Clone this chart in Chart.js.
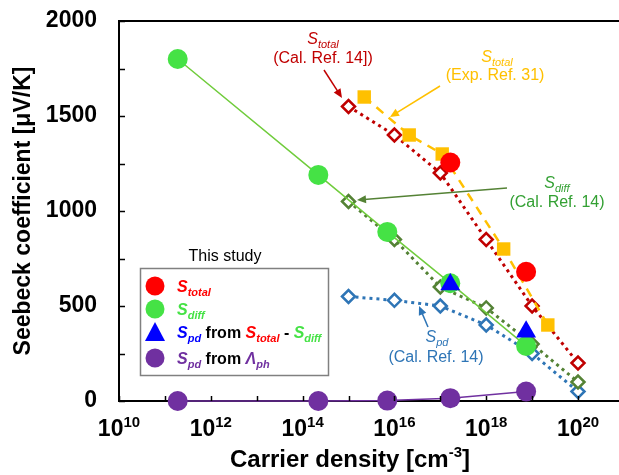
<!DOCTYPE html>
<html>
<head>
  <meta charset="UTF-8" />
  <title>Seebeck coefficient vs carrier density</title>
  <script src="https://cdn.jsdelivr.net/npm/chart.js"></script>
  <style>
    body {
      margin: 0;
      background: #fff;
      overflow: hidden;
    }

    #wrap {
      width: 619px;
      height: 475px;
      position: relative;
    }
  </style>
</head>
<body>

  <div id="wrap"><canvas id="chart"></canvas></div>

  <script>
    // Ref. 14 calculations, one point per decade
    const calX = [1e15, 1e16, 1e17, 1e18, 1e19, 1e20];
    const totalCalY = [1550, 1400, 1200, 850, 500, 200];
    const diffCalY = [1050, 850, 600, 490, 300, 100];
    const pdCalY = [550, 530, 500, 400, 250, 50];

    // Ref. 31 experiment
    const totalExpX = [2.2e15, 2.1e16, 1.1e17, 2.4e18, 2.2e19];
    const totalExpY = [1600, 1400, 1300, 800, 400];

    // this study
    const studyX = [1.9e11, 2.2e14, 7e15, 1.65e17, 7.4e18];
    const diffY = [1800, 1190, 890, 620, 290];
    const phY = [0, 0, 2, 15, 50];
    const totalX = [1.65e17, 7.4e18];
    const totalY = [1255, 680];
    const pdY = [613, 365];

    const xTickExps = [10, 12, 14, 16, 18, 20];
    const xMinorExps = [10, 11, 12, 13, 14, 15, 16, 17, 18, 19, 20];
    const yStep = 250;

    const FONT = '"Liberation Sans", Arial, sans-serif';

    const pts = (xs, ys) => xs.map((x, i) => ({ x: x, y: ys[i] }));

    // draw a run of differently styled pieces of text
    function drawParts(ctx, parts, x, y, align) {
      let w = 0;
      parts.forEach(p => { ctx.font = p[1]; w += ctx.measureText(p[0]).width; });
      let cx = align === 'center' ? x - w / 2 : x;
      ctx.textAlign = 'left';
      ctx.textBaseline = 'alphabetic';
      parts.forEach(p => {
        ctx.font = p[1];
        ctx.fillStyle = p[2];
        ctx.fillText(p[0], cx, y + (p[3] || 0));
        cx += ctx.measureText(p[0]).width;
      });
    }

    function arrow(ctx, x1, y1, x2, y2, color) {
      const a = Math.atan2(y2 - y1, x2 - x1);
      const len = 9, half = 4;
      ctx.strokeStyle = color;
      ctx.fillStyle = color;
      ctx.lineWidth = 1.5;
      ctx.beginPath();
      ctx.moveTo(x1, y1);
      ctx.lineTo(x2 - Math.cos(a) * len * 0.8, y2 - Math.sin(a) * len * 0.8);
      ctx.stroke();
      ctx.beginPath();
      ctx.moveTo(x2, y2);
      ctx.lineTo(x2 - Math.cos(a) * len + Math.sin(a) * half, y2 - Math.sin(a) * len - Math.cos(a) * half);
      ctx.lineTo(x2 - Math.cos(a) * len - Math.sin(a) * half, y2 - Math.sin(a) * len + Math.cos(a) * half);
      ctx.closePath();
      ctx.fill();
    }

    const extras = {
      id: 'extras',
      afterDraw(chart) {
        const ctx = chart.ctx;
        const xs = chart.scales.x, ys = chart.scales.y;
        const area = chart.chartArea;
        ctx.save();

        // frame: top line and inward ticks
        ctx.strokeStyle = '#000';
        ctx.lineWidth = 2;
        ctx.beginPath();
        ctx.moveTo(area.left, area.top);
        ctx.lineTo(chart.width, area.top);
        ctx.stroke();
        ctx.lineWidth = 1.5;
        xMinorExps.forEach(e => {
          const px = Math.round(xs.getPixelForValue(Math.pow(10, e))) + 0.5;
          ctx.beginPath();
          ctx.moveTo(px, area.bottom);
          ctx.lineTo(px, area.bottom - 5);
          ctx.stroke();
        });
        for (let v = 0; v <= 2000; v += yStep) {
          const py = Math.round(ys.getPixelForValue(v)) + 0.5;
          ctx.beginPath();
          ctx.moveTo(area.left, py);
          ctx.lineTo(area.left + 6, py);
          ctx.stroke();
        }

        // x tick labels with superscripts
        xTickExps.forEach(e => {
          const px = xs.getPixelForValue(Math.pow(10, e));
          drawParts(ctx, [
            ['10', 'bold 23px ' + FONT, '#000'],
            [String(e), 'bold 15px ' + FONT, '#000', -9]
          ], px, 436, 'center');
        });

        // x axis title
        drawParts(ctx, [
          ['Carrier density [cm', 'bold 24px ' + FONT, '#000'],
          ['-3', 'bold 15px ' + FONT, '#000', -10],
          [']', 'bold 24px ' + FONT, '#000']
        ], 350, 467, 'center');

        // annotations for the Ref. 14 / Ref. 31 curves
        const aS = 'italic 16px ' + FONT, aSub = 'italic 11px ' + FONT, aT = '16px ' + FONT;
        const dred = '#c00000', orange = '#ffc000', dgreen = '#33a033', lblue = '#2e75b6';
        drawParts(ctx, [['S', aS, dred], ['total', aSub, dred, 4]], 323, 44, 'center');
        drawParts(ctx, [['(Cal. Ref. 14])', aT, dred]], 323, 63, 'center');
        arrow(ctx, 324, 70, 342, 98, dred);

        drawParts(ctx, [['S', aS, orange], ['total', aSub, orange, 4]], 497, 62, 'center');
        drawParts(ctx, [['(Exp. Ref. 31)', aT, orange]], 495, 80, 'center');
        arrow(ctx, 440, 86, 390, 117, orange);

        drawParts(ctx, [['S', aS, dgreen], ['diff', aSub, dgreen, 4]], 557, 188, 'center');
        drawParts(ctx, [['(Cal. Ref. 14)', aT, dgreen]], 557, 207, 'center');
        arrow(ctx, 507, 188, 357, 200, '#548235');

        drawParts(ctx, [['S', aS, lblue], ['pd', aSub, lblue, 4]], 437, 342, 'center');
        drawParts(ctx, [['(Cal. Ref. 14)', aT, lblue]], 436, 362, 'center');
        arrow(ctx, 428, 327, 419, 306, lblue);

        // legend for this study
        ctx.font = '16px ' + FONT;
        ctx.fillStyle = '#000';
        ctx.textAlign = 'center';
        ctx.fillText('This study', 225, 261);
        ctx.strokeStyle = '#808080';
        ctx.lineWidth = 1.5;
        ctx.strokeRect(140.5, 268.5, 188, 107);

        const lS = 'italic bold 16px ' + FONT, lSub = 'italic bold 11px ' + FONT, lT = 'bold 16px ' + FONT;
        const red = '#ff0000', green = '#45e245', blue = '#0000ff', purple = '#7030a0';
        const dot = (y, c) => {
          ctx.fillStyle = c;
          ctx.beginPath();
          ctx.arc(155, y, 9.5, 0, Math.PI * 2);
          ctx.fill();
        };
        dot(286, red);
        drawParts(ctx, [['S', lS, red], ['total', lSub, red, 4]], 177, 292, 'left');
        dot(309, green);
        drawParts(ctx, [['S', lS, green], ['diff', lSub, green, 4]], 177, 315, 'left');
        ctx.fillStyle = blue;
        ctx.beginPath();
        ctx.moveTo(155, 322);
        ctx.lineTo(165, 341);
        ctx.lineTo(145, 341);
        ctx.closePath();
        ctx.fill();
        drawParts(ctx, [
          ['S', lS, blue], ['pd', lSub, blue, 4], [' from ', lT, '#000'],
          ['S', lS, red], ['total', lSub, red, 4], [' - ', lT, '#000'],
          ['S', lS, green], ['diff', lSub, green, 4]
        ], 177, 338, 'left');
        dot(358, purple);
        drawParts(ctx, [
          ['S', lS, purple], ['pd', lSub, purple, 4], [' from ', lT, '#000'],
          ['\u039B', lS, purple], ['ph', lSub, purple, 4]
        ], 177, 364, 'left');

        ctx.restore();
      }
    };

    const dotted = [3, 4];

    new Chart(document.getElementById('chart'), {
      type: 'line',
      data: {
        datasets: [
          {
            label: 'Spd from Stotal - Sdiff',
            data: pts(totalX, pdY),
            showLine: false,
            pointStyle: 'triangle',
            pointRadius: 11.5,
            backgroundColor: '#0000ff',
            borderColor: '#0000ff',
            borderWidth: 0
          },
          {
            label: 'Stotal',
            data: pts(totalX, totalY),
            showLine: false,
            pointRadius: 10,
            backgroundColor: '#ff0000',
            borderColor: '#ff0000',
            borderWidth: 0
          },
          {
            label: 'Sdiff',
            data: pts(studyX, diffY),
            pointRadius: 10,
            backgroundColor: '#45e245',
            pointBorderWidth: 0,
            borderColor: '#70cc3c',
            borderWidth: 1.5
          },
          {
            label: 'Spd from Lph',
            data: pts(studyX, phY),
            pointRadius: 10,
            backgroundColor: '#7030a0',
            pointBorderWidth: 0,
            borderColor: '#7030a0',
            borderWidth: 1.5
          },
          {
            label: 'Stotal (Exp. Ref. 31)',
            data: pts(totalExpX, totalExpY),
            pointStyle: 'rect',
            pointRadius: 9.5,
            backgroundColor: '#ffc000',
            pointBorderWidth: 0,
            borderColor: '#ffc000',
            borderWidth: 2.5,
            borderDash: [9, 7]
          },
          {
            label: 'Stotal (Cal. Ref. 14)',
            data: pts(calX, totalCalY),
            pointStyle: 'rectRot',
            pointRadius: 6.5,
            pointBackgroundColor: '#fff',
            pointBorderColor: '#c00000',
            pointBorderWidth: 2.5,
            borderColor: '#c00000',
            borderWidth: 3,
            borderDash: dotted
          },
          {
            label: 'Sdiff (Cal. Ref. 14)',
            data: pts(calX, diffCalY),
            pointStyle: 'rectRot',
            pointRadius: 6.5,
            pointBackgroundColor: '#fff',
            pointBorderColor: '#548235',
            pointBorderWidth: 2.5,
            borderColor: '#548235',
            borderWidth: 3,
            borderDash: dotted
          },
          {
            label: 'Spd (Cal. Ref. 14)',
            data: pts(calX, pdCalY),
            pointStyle: 'rectRot',
            pointRadius: 6.5,
            pointBackgroundColor: '#fff',
            pointBorderColor: '#2e75b6',
            pointBorderWidth: 2.5,
            borderColor: '#2e75b6',
            borderWidth: 3,
            borderDash: dotted
          }
        ].map(d => Object.assign({ clip: false, tension: 0, fill: false }, d))
      },
      options: {
        responsive: true,
        maintainAspectRatio: false,
        animation: false,
        layout: { autoPadding: false, padding: { top: 21, right: 0, left: 0, bottom: 0 } },
        plugins: {
          legend: { display: false },
          tooltip: { enabled: false }
        },
        scales: {
          x: {
            type: 'logarithmic',
            min: 1e10,
            max: Math.pow(10, 20.893),
            afterBuildTicks: s => { s.ticks = xMinorExps.map(e => ({ value: Math.pow(10, e) })); },
            afterFit: s => { s.height = 74; },
            ticks: { display: false },
            grid: { display: false },
            border: { display: true, color: '#000', width: 2 }
          },
          y: {
            min: 0,
            max: 2000,
            afterFit: s => {
              s.width = 119;
              // the labels may hang over the frame, keep the plot box fixed
              s.paddingTop = 0;
              s.paddingBottom = 0;
            },
            ticks: {
              stepSize: yStep,
              padding: 22,
              color: '#000',
              font: { family: FONT, size: 23, weight: 'bold' },
              callback: v => (v % 500 === 0 ? v : '')
            },
            grid: { display: false, drawTicks: false },
            border: { display: true, color: '#000', width: 2 },
            title: {
              display: true,
              text: 'Seebeck coefficient [\u03BCV/K]',
              color: '#000',
              font: { family: FONT, size: 23, weight: 'bold' },
              padding: { top: 10, bottom: 0 }
            }
          }
        }
      },
      plugins: [extras]
    });
  </script>
</body>
</html>
